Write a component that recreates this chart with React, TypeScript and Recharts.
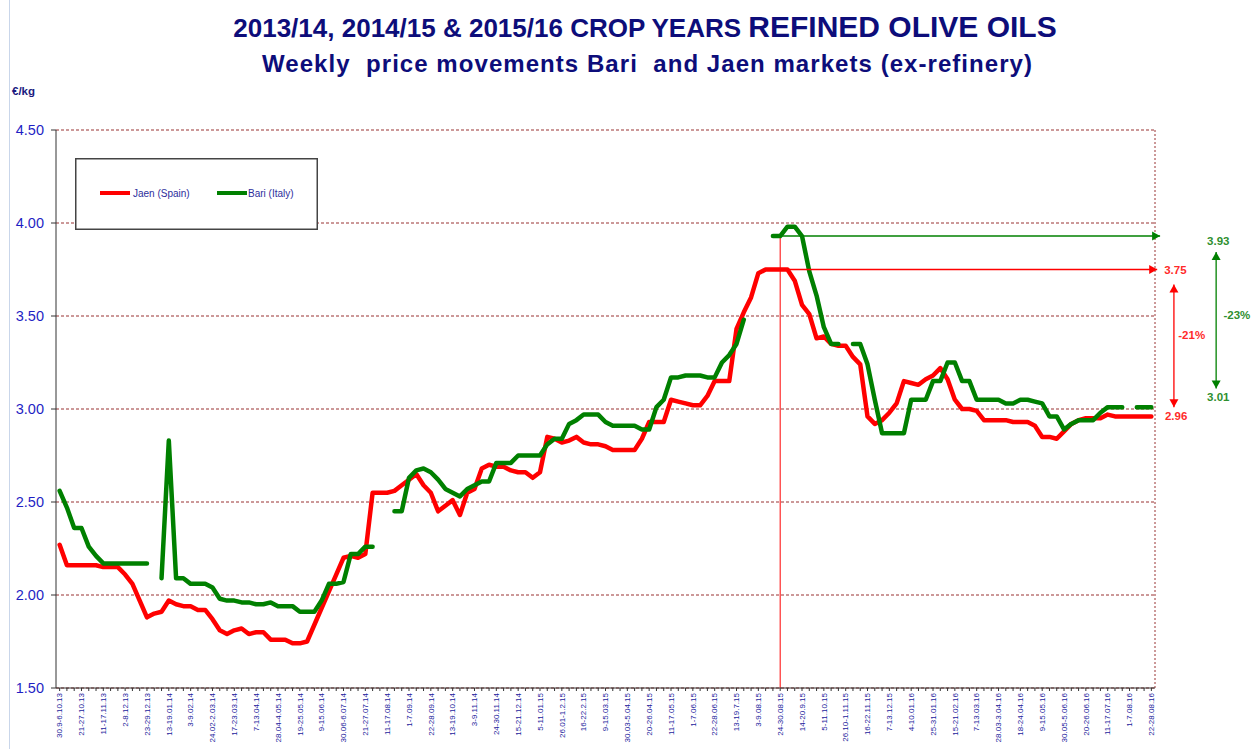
import React from 'react'
import {
  LineChart,
  Line,
  XAxis,
  YAxis,
  CartesianGrid,
  ReferenceLine,
  ReferenceDot,
  Legend,
} from 'recharts'

// one label for every third week (the axis shows 1 label per 3 weeks)
const weekLabels = [
  '30.9-6.10.13', '21-27.10.13', '11-17.11.13', '2-8.12.13', '23-29.12.13',
  '13-19.01.14', '3-9.02.14', '24.02-2.03.14', '17-23.03.14', '7-13.04.14',
  '28.04-4.05.14', '19-25.05.14', '9-15.06.14', '30.06-6.07.14', '21-27.07.14',
  '11-17.08.14', '1-7.09.14', '22-28.09.14', '13-19.10.14', '3-9.11.14',
  '24-30.11.14', '15-21.12.14', '5-11.01.15', '26.01-1.2.15', '16-22.2.15',
  '9-15.03.15', '30.03-5.04.15', '20-26.04.15', '11-17.05.15', '1-7.06.15',
  '22-28.06.15', '13-19.7.15', '3-9.08.15', '24-30.08.15', '14-20.9.15',
  '5-11.10.15', '26.10-1.11.15', '16-22.11.15', '7-13.12.15', '4-10.01.16',
  '25-31.01.16', '15-21.02.16', '7-13.03.16', '28.03-3.04.16', '18-24.04.16',
  '9-15.05.16', '30.05-5.06.16', '20-26.06.16', '11-17.07.16', '1-7.08.16',
  '22-28.08.16',
]

// weekly prices, €/kg
const jaenPrices = [
  2.27, 2.16, 2.16, 2.16, 2.16, 2.16, 2.15, 2.15, 2.15, 2.11,
  2.06, 1.97, 1.88, 1.90, 1.91, 1.97, 1.95, 1.94, 1.94, 1.92,
  1.92, 1.87, 1.81, 1.79, 1.81, 1.82, 1.79, 1.80, 1.80, 1.76,
  1.76, 1.76, 1.74, 1.74, 1.75, 1.84, 1.93, 2.02, 2.11, 2.20,
  2.21, 2.20, 2.22, 2.55, 2.55, 2.55, 2.56, 2.59, 2.62, 2.65,
  2.59, 2.55, 2.45, 2.48, 2.51, 2.43, 2.55, 2.57, 2.68, 2.70,
  2.69, 2.69, 2.67, 2.66, 2.66, 2.63, 2.66, 2.85, 2.84, 2.82,
  2.83, 2.85, 2.82, 2.81, 2.81, 2.80, 2.78, 2.78, 2.78, 2.78,
  2.84, 2.93, 2.93, 2.93, 3.05, 3.04, 3.03, 3.02, 3.02, 3.07,
  3.15, 3.15, 3.15, 3.43, 3.52, 3.60, 3.73, 3.75, 3.75, 3.75,
  3.75, 3.69, 3.56, 3.51, 3.38, 3.39, 3.35, 3.34, 3.34, 3.28,
  3.24, 2.96, 2.92, 2.94, 2.98, 3.03, 3.15, 3.14, 3.13, 3.16,
  3.18, 3.22, 3.16, 3.05, 3.00, 3.00, 2.99, 2.94, 2.94, 2.94,
  2.94, 2.93, 2.93, 2.93, 2.91, 2.85, 2.85, 2.84, 2.88, 2.92,
  2.94, 2.95, 2.95, 2.95, 2.97, 2.96, 2.96, 2.96, 2.96, 2.96,
  2.96,
]

const bariPrices = [
  2.56, 2.47, 2.36, 2.36, 2.26, 2.21, 2.17, 2.17, 2.17, 2.17,
  2.17, 2.17, 2.17, null, 2.09, 2.83, 2.09, 2.09, 2.06, 2.06,
  2.06, 2.04, 1.98, 1.97, 1.97, 1.96, 1.96, 1.95, 1.95, 1.96,
  1.94, 1.94, 1.94, 1.91, 1.91, 1.91, 1.97, 2.06, 2.06, 2.07,
  2.22, 2.22, 2.26, 2.26, null, null, 2.45, 2.45, 2.63, 2.67,
  2.68, 2.66, 2.62, 2.57, 2.55, 2.53, 2.57, 2.59, 2.61, 2.61,
  2.71, 2.71, 2.71, 2.75, 2.75, 2.75, 2.75, 2.81, 2.84, 2.84,
  2.92, 2.94, 2.97, 2.97, 2.97, 2.93, 2.91, 2.91, 2.91, 2.91,
  2.89, 2.89, 3.01, 3.05, 3.17, 3.17, 3.18, 3.18, 3.18, 3.17,
  3.17, 3.25, 3.29, 3.35, 3.48, null, null, null, 3.93, 3.93,
  3.98, 3.98, 3.93, 3.74, 3.61, 3.44, 3.35, 3.35, null, 3.35,
  3.35, 3.24, 3.05, 2.87, 2.87, 2.87, 2.87, 3.05, 3.05, 3.05,
  3.15, 3.15, 3.25, 3.25, 3.15, 3.15, 3.05, 3.05, 3.05, 3.05,
  3.03, 3.03, 3.05, 3.05, 3.04, 3.03, 2.96, 2.96, 2.89, 2.92,
  2.94, 2.94, 2.94, 2.98, 3.01, 3.01, 3.01, null, 3.01, 3.01,
  3.01,
]

const yTicks = [1.5, 2, 2.5, 3, 3.5, 4, 4.5]

// reference week (24-30.08.15) and the values the arrows compare
const refWeek = 99
const jaenPeak = 3.75
const jaenLast = 2.96
const bariPeak = 3.93
const bariLast = 3.01

const data = jaenPrices.map((v, i) => ({ week: i, jaen: v, bari: bariPrices[i] }))
const weekTicks = jaenPrices.map((_, i) => i)

const FONT = 'Liberation Sans, Arial, sans-serif'
const RED = '#ff0000'
const GREEN = '#008000'
const RED_TXT = '#ff2a2a'
const GREEN_TXT = '#2f8f2f'

const pct = (from: number, to: number) => `${Math.round(((to - from) / from) * 100)}%`

function WeekTick({ x, y, payload }: any) {
  const i = payload.value
  if (i % 3 !== 0) return <g />
  return (
    <text
      x={x}
      y={y}
      transform={`rotate(-90 ${x} ${y})`}
      textAnchor="end"
      dy="0.35em"
      fontSize={8}
      fontFamily={FONT}
      fill="#1a1a9c"
    >
      {weekLabels[i / 3]}
    </text>
  )
}

function head(x: number, y: number, ang: number, color: string) {
  const L = 8
  const W = 4.5
  const bx = x - L * Math.cos(ang)
  const by = y - L * Math.sin(ang)
  const px = -Math.sin(ang) * W
  const py = Math.cos(ang) * W
  return <polygon points={`${x},${y} ${bx + px},${by + py} ${bx - px},${by - py}`} fill={color} stroke="none" />
}

const arrow = (color: string, both: boolean) => (p: any) => {
  const { x1, y1, x2, y2 } = p
  const ang = Math.atan2(y2 - y1, x2 - x1)
  return (
    <g>
      <line x1={x1} y1={y1} x2={x2} y2={y2} stroke={color} strokeWidth={1.3} />
      {head(x2, y2, ang, color)}
      {both && head(x1, y1, ang + Math.PI, color)}
    </g>
  )
}

const note = (text: string, color: string, anchor: string, dy = 0) => (p: any) => (
  <text
    x={p.cx}
    y={p.cy + dy}
    textAnchor={anchor}
    dominantBaseline="central"
    fontSize={11.5}
    fontWeight="bold"
    fontFamily={FONT}
    fill={color}
  >
    {text}
  </text>
)

function LegendBox() {
  return (
    <svg width={243} height={72} style={{ display: 'block' }}>
      <rect x={0.75} y={0.75} width={241.5} height={70.5} fill="#fff" stroke="#444" strokeWidth={1.5} />
      <line x1={25} y1={35} x2={55} y2={35} stroke={RED} strokeWidth={4} />
      <text x={58} y={35} dominantBaseline="central" fontSize={10} fontFamily={FONT} fill="#2d2d9c">
        Jaen (Spain)
      </text>
      <line x1={142} y1={35} x2={172} y2={35} stroke={GREEN} strokeWidth={4} />
      <text x={173} y={35} dominantBaseline="central" fontSize={10} fontFamily={FONT} fill="#2d2d9c">
        Bari (Italy)
      </text>
    </svg>
  )
}

export default function App() {
  return (
    <div style={{ position: 'absolute', left: 0, top: 0, width: 1260, height: 749, background: '#fff' }}>
      <LineChart
        width={1260}
        height={749}
        data={data}
        margin={{ top: 130, right: 105, bottom: 0, left: 0 }}
      >
        <CartesianGrid vertical={false} stroke="#993333" strokeDasharray="3 2" />
        <XAxis
          dataKey="week"
          type="number"
          domain={[-0.5, 150.5]}
          ticks={weekTicks}
          interval={0}
          tick={<WeekTick />}
          tickSize={3}
          height={61}
          axisLine={{ stroke: '#333' }}
          tickLine={{ stroke: '#333' }}
        />
        <YAxis
          type="number"
          domain={[1.5, 4.5]}
          ticks={yTicks}
          interval={0}
          width={56}
          tickSize={5}
          tickMargin={7}
          tickFormatter={(v: number) => v.toFixed(2)}
          tick={{ fontSize: 14.5, fill: '#1f1fc4', fontFamily: FONT }}
          axisLine={{ stroke: '#333' }}
          tickLine={{ stroke: '#333' }}
        />
        <ReferenceLine x={150.5} stroke="#993333" strokeDasharray="2 2" />
        <ReferenceLine
          segment={[{ x: refWeek, y: bariPeak }, { x: refWeek, y: 1.5 }]}
          stroke={RED}
          strokeWidth={1}
        />
        <Line
          type="linear"
          dataKey="jaen"
          name="Jaen (Spain)"
          stroke={RED}
          strokeWidth={4.5}
          strokeLinejoin="round"
          strokeLinecap="round"
          dot={false}
          activeDot={false}
          isAnimationActive={false}
        />
        <Line
          type="linear"
          dataKey="bari"
          name="Bari (Italy)"
          stroke={GREEN}
          strokeWidth={4.5}
          strokeLinejoin="round"
          strokeLinecap="round"
          dot={false}
          activeDot={false}
          isAnimationActive={false}
        />
        <ReferenceLine
          segment={[{ x: refWeek - 0.7, y: bariPeak }, { x: 151.2, y: bariPeak }]}
          ifOverflow="visible"
          stroke={GREEN}
          shape={arrow(GREEN, false)}
        />
        <ReferenceLine
          segment={[{ x: refWeek + 0.9, y: jaenPeak }, { x: 150.8, y: jaenPeak }]}
          ifOverflow="visible"
          stroke={RED}
          shape={arrow(RED, false)}
        />
        <ReferenceLine
          segment={[{ x: 153.1, y: jaenPeak - 0.08 }, { x: 153.1, y: jaenLast + 0.05 }]}
          ifOverflow="visible"
          stroke={RED}
          shape={arrow(RED, true)}
        />
        <ReferenceLine
          segment={[{ x: 158.9, y: bariPeak - 0.086 }, { x: 158.9, y: bariLast + 0.1 }]}
          ifOverflow="visible"
          stroke={GREEN}
          shape={arrow(GREEN, true)}
        />
        <ReferenceDot x={153.3} y={jaenPeak} r={0} ifOverflow="visible" shape={note(jaenPeak.toFixed(2), RED_TXT, 'middle')} />
        <ReferenceDot x={153.4} y={jaenLast} r={0} ifOverflow="visible" shape={note(jaenLast.toFixed(2), RED_TXT, 'middle')} />
        <ReferenceDot x={153.7} y={3.4} r={0} ifOverflow="visible" shape={note(pct(jaenPeak, jaenLast), RED_TXT, 'start')} />
        <ReferenceDot x={159.2} y={bariPeak} r={0} ifOverflow="visible" shape={note(bariPeak.toFixed(2), GREEN_TXT, 'middle', 5)} />
        <ReferenceDot x={159.2} y={bariLast} r={0} ifOverflow="visible" shape={note(bariLast.toFixed(2), GREEN_TXT, 'middle', -10)} />
        <ReferenceDot x={159.9} y={3.505} r={0} ifOverflow="visible" shape={note(pct(bariPeak, bariLast), GREEN_TXT, 'start')} />
        <Legend
          layout="horizontal"
          verticalAlign="middle"
          align="center"
          wrapperStyle={{ top: 158, left: 75, width: 243, height: 72 }}
          content={() => <LegendBox />}
        />
      </LineChart>
      <svg
        width={1260}
        height={749}
        style={{ position: 'absolute', left: 0, top: 0, pointerEvents: 'none' }}
      >
        <line x1={9.5} y1={0} x2={9.5} y2={749} stroke="#c9d6ea" strokeWidth={1} />
        <text x={645} y={37} textAnchor="middle" fontFamily={FONT} fontWeight="bold" fill="#0d0d7a">
          <tspan fontSize={26}>2013/14, 2014/15 &amp; 2015/16 CROP YEARS </tspan>
          <tspan fontSize={30}>REFINED OLIVE OILS</tspan>
        </text>
        <text
          x={647}
          y={72}
          textAnchor="middle"
          fontFamily={FONT}
          fontWeight="bold"
          fontSize={24}
          textLength={770}
          fill="#0d0d7a"
          style={{ whiteSpace: 'pre' }}
        >
          {'Weekly  price movements Bari  and Jaen markets (ex-refinery)'}
        </text>
        <text x={12} y={95} fontFamily={FONT} fontWeight="bold" fontSize={11.5} fill="#1a1a80">
          €/kg
        </text>
      </svg>
    </div>
  )
}
